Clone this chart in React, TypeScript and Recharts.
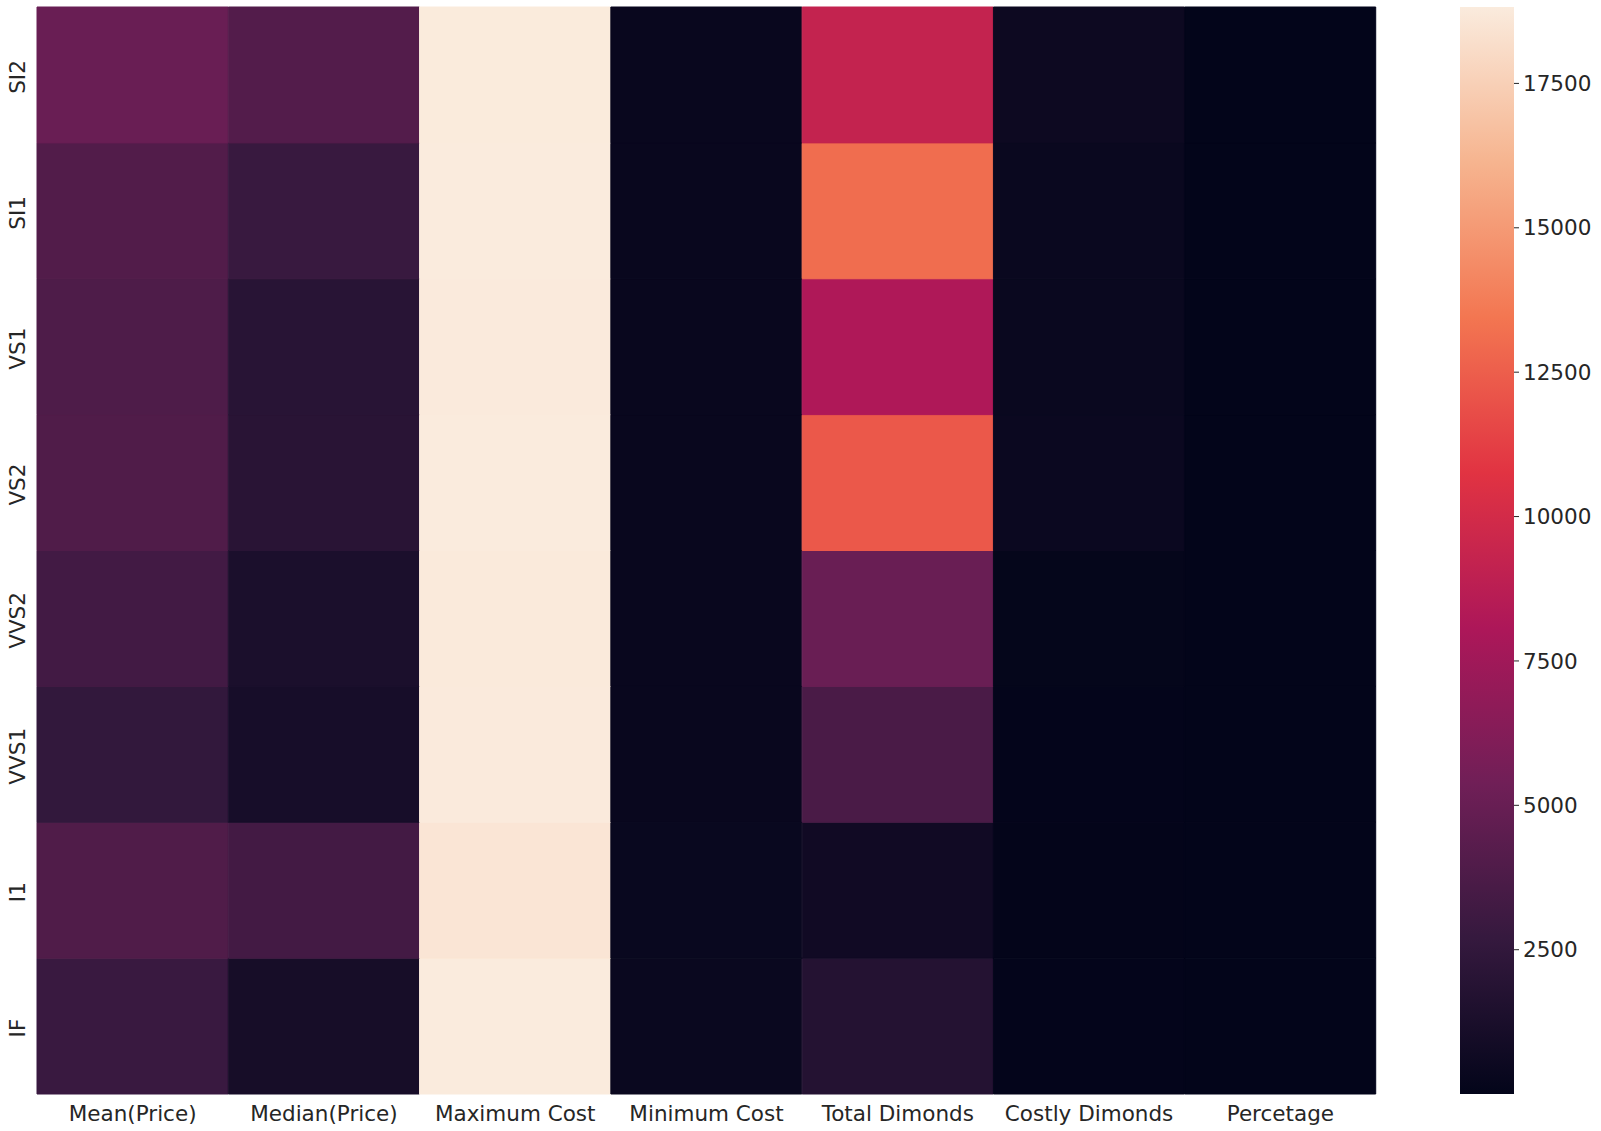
import React from "react"
import { BarChart, Bar, XAxis, YAxis, Cell } from "recharts"

// clarity grades, top row first
const rows = ["SI2", "SI1", "VS1", "VS2", "VVS2", "VVS1", "I1", "IF"]
const columns = ["Mean(Price)", "Median(Price)", "Maximum Cost", "Minimum Cost", "Total Dimonds", "Costly Dimonds", "Percetage"]

const meanPrice = [5063, 3996, 3839, 3925, 3284, 2523, 3924, 2865]
const medianPrice = [4072, 2822, 2005, 2054, 1311, 1093, 3344, 1080]
const maxCost = [18804, 18818, 18795, 18823, 18768, 18777, 18531, 18806]
const minCost = [326, 326, 327, 334, 336, 336, 345, 369]
const totalDimonds = [9194, 13065, 8171, 12258, 5066, 3655, 741, 1790]
const costlyDimonds = [520, 380, 360, 420, 90, 60, 30, 50]
const percetage = [7.1, 3.1, 4.7, 3.7, 1.8, 1.6, 4.0, 2.8]

const colorbarTicks = [2500, 5000, 7500, 10000, 12500, 15000, 17500]

const matrix = [meanPrice, medianPrice, maxCost, minCost, totalDimonds, costlyDimonds, percetage]
const allValues = matrix.flat()
const vmin = Math.min(...allValues)
const vmax = Math.max(...allValues)

// seaborn "rocket" anchors
const rocket = ["#03051a", "#35193e", "#701f57", "#ad1759", "#e13342", "#f37651", "#f6b48f", "#faebdd"]

function hexToRgb(h: string) {
  return [1, 3, 5].map((i) => parseInt(h.slice(i, i + 2), 16))
}

function rocketColor(t: number) {
  const c = Math.max(0, Math.min(1, t)) * (rocket.length - 1)
  const i = Math.min(Math.floor(c), rocket.length - 2)
  const f = c - i
  const a = hexToRgb(rocket[i])
  const b = hexToRgb(rocket[i + 1])
  const rgb = a.map((v, k) => Math.round(v + (b[k] - v) * f))
  return `rgb(${rgb[0]},${rgb[1]},${rgb[2]})`
}

const colorOf = (v: number) => rocketColor((v - vmin) / (vmax - vmin))

// each column stacks one unit per clarity row
const tableData = columns.map((name) => {
  const o: Record<string, any> = { name }
  rows.forEach((r) => (o[r] = 1))
  return o
})

const stackOrder = [...rows].reverse() // bottom first
const rowTicks = rows.map((_, i) => i + 0.5)
const font = "DejaVu Sans, sans-serif"
const textColor = "#262626"
const fontSize = 21.5

function RowTick(props: any) {
  const { x, y, payload } = props
  const label = rows[rows.length - 1 - Math.floor(payload.value)]
  return (
    <text
      x={x}
      y={y + 2}
      transform={`rotate(-90, ${x}, ${y + 2})`}
      textAnchor="middle"
      fill={textColor}
      fontSize={fontSize}
      fontFamily={font}
    >
      {label}
    </text>
  )
}

export default function App() {
  return (
    <div style={{ position: "absolute", left: 0, top: 0, width: 1601, height: 1131, background: "#fff" }}>
      <div style={{ position: "absolute", left: 0, top: 0 }}>
        <BarChart
          width={1400}
          height={1131}
          data={tableData}
          margin={{ top: 7, right: 24, bottom: 0, left: 0 }}
          barCategoryGap={0}
          barGap={0}
        >
          <XAxis
            dataKey="name"
            height={37}
            interval={0}
            axisLine={false}
            tickLine={false}
            tickSize={6}
            tickMargin={6}
            tick={{ fill: textColor, fontSize, fontFamily: font }}
          />
          <YAxis
            type="number"
            domain={[0, rows.length]}
            ticks={rowTicks}
            width={37}
            axisLine={false}
            tickLine={false}
            tickSize={6}
            tickMargin={6}
            tick={<RowTick />}
          />
          {stackOrder.map((r) => {
            const ri = rows.indexOf(r)
            return (
              <Bar key={r} dataKey={r} stackId="a" isAnimationActive={false}>
                {columns.map((c, ci) => (
                  <Cell key={c} fill={colorOf(matrix[ci][ri])} stroke={colorOf(matrix[ci][ri])} strokeWidth={1} />
                ))}
              </Bar>
            )
          })}
        </BarChart>
      </div>
      <div style={{ position: "absolute", left: 1460, top: 0 }}>
        <BarChart
          width={141}
          height={1131}
          data={[{ name: "cb", v: vmax }]}
          margin={{ top: 7, right: 0, bottom: 37, left: 0 }}
          barCategoryGap={0}
        >
          <defs>
            <linearGradient id="rocketGrad" x1="0" y1="1" x2="0" y2="0">
              {rocket.map((c, i) => (
                <stop key={c} offset={i / (rocket.length - 1)} stopColor={c} />
              ))}
            </linearGradient>
          </defs>
          <XAxis dataKey="name" hide />
          <YAxis
            orientation="right"
            type="number"
            domain={[vmin, vmax]}
            ticks={colorbarTicks}
            width={87}
            axisLine={false}
            tickSize={5}
            tickMargin={4}
            tickLine={{ stroke: textColor }}
            tick={{ fill: textColor, fontSize, fontFamily: font }}
          />
          <Bar dataKey="v" fill="url(#rocketGrad)" isAnimationActive={false} />
        </BarChart>
      </div>
    </div>
  )
}
